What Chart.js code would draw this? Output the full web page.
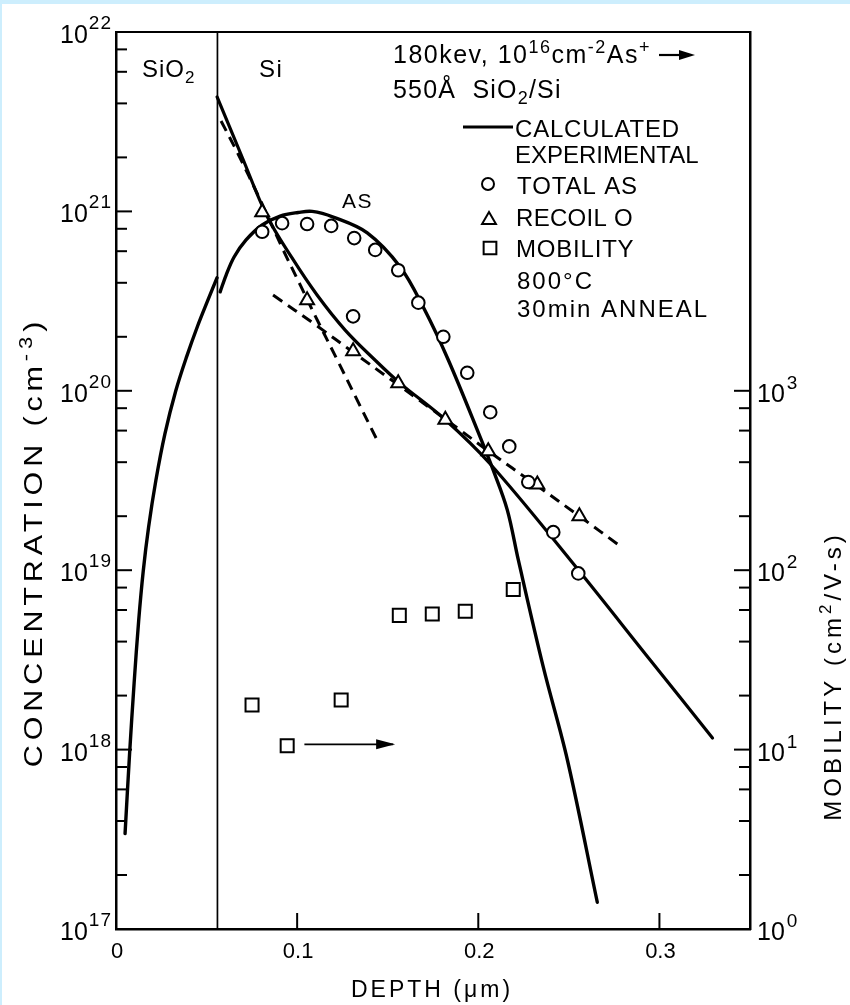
<!DOCTYPE html>
<html>
<head>
<meta charset="utf-8">
<script src="https://cdn.jsdelivr.net/npm/chart.js@4.4.1/dist/chart.umd.min.js"></script>
<style>
  html, body { margin: 0; padding: 0; background: #fff; }
  canvas { display: block; }
</style>
</head>
<body>
<canvas id="chart" width="850" height="1005"></canvas>
<script>
// depth in µm, concentration in cm^-3, mobility in cm^2/V-s

// calculated As profile, oxide side and silicon side
const asOxideDepth = [0.0050, 0.0075, 0.0100, 0.0125, 0.0150, 0.0180, 0.0220, 0.0270, 0.0330, 0.0390, 0.0450, 0.0505, 0.0558];
const asOxideConc  = [3.4e17, 9.5e17, 2.35e18, 5.2e18, 9.8e18, 1.74e19, 3.16e19, 5.75e19, 1.0e20, 1.55e20, 2.29e20, 3.16e20, 4.27e20];
const asSiDepth = [0.0575, 0.0608, 0.0652, 0.0718, 0.0807, 0.0906, 0.1006, 0.1083, 0.1199, 0.1387, 0.1569, 0.1696, 0.1834, 0.2011, 0.2083, 0.2160, 0.2221, 0.2359, 0.2492, 0.2657];
const asSiConc  = [3.56e20, 4.42e20, 5.57e20, 6.93e20, 8.4e20, 9.42e20, 9.86e20, 1.0e21, 9.3e20, 7.59e20, 4.9e20, 2.93e20, 1.49e20, 5.5e19, 3.6e19, 2.17e19, 1.14e19, 2.88e18, 8.75e17, 1.41e17];

// calculated recoil O profile
const oCalcDepth = [0.0558, 0.0696, 0.0834, 0.0972, 0.1110, 0.1265, 0.1431, 0.1569, 0.1807, 0.2066, 0.2508, 0.2950, 0.3293];
const oCalcConc  = [4.35e21, 2.01e21, 9.4e20, 5.5e20, 3.42e20, 2.18e20, 1.48e20, 1.10e20, 7.05e19, 3.91e19, 1.14e19, 3.15e18, 1.16e18];

// experimental O, dashed traces
const oSteepDepth = [0.0580, 0.0669, 0.0796, 0.0923, 0.1017, 0.1111, 0.1221, 0.1331, 0.1442];
const oSteepConc  = [3.19e21, 2.14e21, 1.16e21, 6.1e20, 3.89e20, 2.48e20, 1.49e20, 8.9e19, 5.3e19];
const oTailDepth = [0.0867, 0.1110, 0.1309, 0.1552, 0.1884, 0.2055, 0.2320, 0.2564, 0.2785];
const oTailConc  = [3.42e20, 2.30e20, 1.64e20, 1.09e20, 6.21e19, 4.62e19, 2.98e19, 1.98e19, 1.36e19];

// experimental points
const totalAsDepth = [0.0807, 0.0917, 0.1055, 0.1188, 0.1315, 0.1431, 0.1558, 0.1669, 0.1807, 0.1939, 0.2066, 0.2171, 0.2276, 0.2414, 0.2552, 0.1309];
const totalAsConc  = [7.7e20, 8.6e20, 8.5e20, 8.3e20, 7.1e20, 6.1e20, 4.7e20, 3.1e20, 2.0e20, 1.26e20, 7.6e19, 4.9e19, 3.1e19, 1.63e19, 9.6e18, 2.6e20];
const recoilODepth = [0.0807, 0.1055, 0.1309, 0.1558, 0.1818, 0.2055, 0.2326, 0.2558];
const recoilOConc  = [9.9e20, 3.2e20, 1.66e20, 1.1e20, 6.9e19, 4.6e19, 3.0e19, 2.0e19];
const mobilityDepth = [0.0751, 0.0945, 0.1243, 0.1564, 0.1746, 0.1928, 0.2193];
const mobilityValue = [17.7, 10.5, 18.9, 56, 57, 59, 78];

// arrow pointing to the mobility axis
const arrowDepth = [0.104, 0.153];
const arrowMobility = [10.7, 10.7];

// SiO2 / Si interface
const interfaceDepth = 0.056;

// axes
const depthTicks = [0, 0.1, 0.2, 0.3];
const depthTickLabels = ['0', '0.1', '0.2', '0.3'];
const concDecades = [1e17, 1e18, 1e19, 1e20, 1e21, 1e22];
const concExponents = ['17', '18', '19', '20', '21', '22'];
const mobilityDecades = [1, 10, 100, 1000];
const mobilityExponents = ['0', '1', '2', '3'];
const minorSteps = [2, 4, 6, 8];

const FONT = '"Liberation Sans", Arial, sans-serif';

const pts = (xs, ys) => xs.map((x, i) => ({ x: x, y: ys[i] }));

function curve(data, width, dash) {
  return {
    data: data, showLine: true, pointRadius: 0, borderColor: '#000',
    borderWidth: width, borderDash: dash || [], fill: false,
    tension: 0.35, borderCapStyle: dash ? 'butt' : 'round',
    borderJoinStyle: 'round', order: 1
  };
}

function measureRich(ctx, parts, size, spacing) {
  let w = 0;
  ctx.letterSpacing = (spacing || 0) + 'px';
  for (const [t, k] of parts) {
    const fs = k === 'n' ? size : Math.round(size * 0.72);
    ctx.font = fs + 'px ' + FONT;
    w += ctx.measureText(t).width;
  }
  return w;
}

function drawRich(ctx, x, y, parts, size, spacing) {
  let cx = x;
  ctx.letterSpacing = (spacing || 0) + 'px';
  for (const [t, k] of parts) {
    const fs = k === 'n' ? size : Math.round(size * 0.72);
    ctx.font = fs + 'px ' + FONT;
    const dy = k === 'sup' ? -size * 0.42 : (k === 'sub' ? size * 0.24 : 0);
    ctx.fillText(t, cx, y + dy);
    cx += ctx.measureText(t).width;
  }
  return cx;
}

function rotatedLabel(ctx, cx, cy, parts, size, spacing, stretch) {
  ctx.save();
  ctx.translate(cx, cy);
  ctx.rotate(-Math.PI / 2);
  ctx.scale(stretch || 1, 1);
  const w = measureRich(ctx, parts, size, spacing);
  drawRich(ctx, -w / 2, size * 0.36, parts, size, spacing);
  ctx.restore();
}

const background = {
  id: 'background',
  beforeDraw(chart) {
    const { ctx, width, height } = chart;
    ctx.save();
    ctx.fillStyle = '#fff';
    ctx.fillRect(0, 0, width, height);
    ctx.fillStyle = '#cdeefd';
    ctx.fillRect(0, 0, width, 4);
    ctx.fillRect(0, 0, 2, height);
    ctx.restore();
  }
};

// inward ticks and 10^n labels
const axisDecor = {
  id: 'axisDecor',
  afterDraw(chart) {
    const { ctx, chartArea: a, scales } = chart;
    ctx.save();
    ctx.strokeStyle = '#000';
    ctx.fillStyle = '#000';
    ctx.lineWidth = 2;
    ctx.lineCap = 'butt';
    const hline = (x1, x2, y) => { ctx.beginPath(); ctx.moveTo(x1, y); ctx.lineTo(x2, y); ctx.stroke(); };
    const vline = (x, y1, y2) => { ctx.beginPath(); ctx.moveTo(x, y1); ctx.lineTo(x, y2); ctx.stroke(); };

    concDecades.forEach((d, i) => {
      const y = scales.y.getPixelForValue(d);
      hline(a.left, a.left + 16, y);
      if (i < concDecades.length - 1) {
        minorSteps.forEach(m => hline(a.left, a.left + 11, scales.y.getPixelForValue(d * m)));
      }
    });
    mobilityDecades.forEach((d, i) => {
      const y = scales.y2.getPixelForValue(d);
      hline(a.right - 16, a.right, y);
      if (i < mobilityDecades.length - 1) {
        minorSteps.forEach(m => hline(a.right - 11, a.right, scales.y2.getPixelForValue(d * m)));
      }
    });
    depthTicks.forEach(v => {
      const x = scales.x.getPixelForValue(v);
      vline(x, a.bottom, a.bottom - 16);
    });

    ctx.textBaseline = 'alphabetic';
    // left labels
    concDecades.forEach((d, i) => {
      const y = scales.y.getPixelForValue(d);
      ctx.font = '19px ' + FONT;
      ctx.letterSpacing = '1px';
      const sw = ctx.measureText(concExponents[i]).width;
      const supX = 112 - sw;
      ctx.fillText(concExponents[i], supX, y - 3);
      ctx.font = '25px ' + FONT;
      ctx.letterSpacing = '0px';
      const bw = ctx.measureText('10').width;
      ctx.fillText('10', supX - bw - 1, y + 11);
    });
    // right labels
    mobilityDecades.forEach((d, i) => {
      const y = scales.y2.getPixelForValue(d);
      ctx.font = '25px ' + FONT;
      ctx.letterSpacing = '0px';
      ctx.fillText('10', 757, y + 11);
      const bw = ctx.measureText('10').width;
      ctx.font = '19px ' + FONT;
      ctx.fillText(mobilityExponents[i], 757 + bw + 2, y - 2);
    });
    // bottom labels
    ctx.font = '22px ' + FONT;
    ctx.textAlign = 'center';
    depthTicks.forEach((v, i) => {
      ctx.fillText(depthTickLabels[i], scales.x.getPixelForValue(v) + 1, a.bottom + 29);
    });
    ctx.textAlign = 'left';

    // axis titles
    const tw = measureRich(ctx, [['DEPTH (μm)', 'n']], 23, 3);
    drawRich(ctx, 432 - tw / 2, 997, [['DEPTH (μm)', 'n']], 23, 3);
    rotatedLabel(ctx, 33, 542, [['CONCENTRATION (cm', 'n'], ['-3', 'sup'], [')', 'n']], 25, 4, 1.22);
    rotatedLabel(ctx, 832, 676, [['MOBILITY (cm', 'n'], ['2', 'sup'], ['/V-s)', 'n']], 24, 4);
    ctx.restore();
  }
};

// arrowhead at the end of the mobility arrow
const arrowHead = {
  id: 'arrowHead',
  afterDatasetsDraw(chart) {
    const idx = chart.data.datasets.findIndex(d => d.label === 'arrow');
    const meta = chart.getDatasetMeta(idx);
    const last = meta.data[meta.data.length - 1];
    const { ctx } = chart;
    ctx.save();
    ctx.fillStyle = '#000';
    ctx.beginPath();
    ctx.moveTo(last.x + 2, last.y);
    ctx.lineTo(last.x - 17, last.y - 5);
    ctx.lineTo(last.x - 17, last.y + 5);
    ctx.closePath();
    ctx.fill();
    ctx.restore();
  }
};

// text block, legend and region labels
const annotations = {
  id: 'annotations',
  afterDraw(chart) {
    const { ctx } = chart;
    const H = Chart.helpers;
    ctx.save();
    ctx.fillStyle = '#000';
    ctx.strokeStyle = '#000';
    ctx.textBaseline = 'alphabetic';

    drawRich(ctx, 142, 77, [['SiO', 'n'], ['2', 'sub']], 24, 1);
    drawRich(ctx, 259, 77, [['Si', 'n']], 24, 1.5);
    drawRich(ctx, 342, 208, [['AS', 'n']], 21, 1.5);

    const end = drawRich(ctx, 393, 63,
      [['180kev, 10', 'n'], ['16', 'sup'], ['cm', 'n'], ['-2', 'sup'], ['As', 'n'], ['+', 'sup']], 25, 1.5);
    ctx.letterSpacing = '0px';
    ctx.lineWidth = 2.2;
    ctx.beginPath();
    ctx.moveTo(end + 8, 55);
    ctx.lineTo(end + 30, 55);
    ctx.stroke();
    ctx.beginPath();
    ctx.moveTo(end + 44, 55);
    ctx.lineTo(end + 28, 50);
    ctx.lineTo(end + 28, 60);
    ctx.closePath();
    ctx.fill();

    drawRich(ctx, 393, 98, [['550Å  SiO', 'n'], ['2', 'sub'], ['/Si', 'n']], 25, 1.2);

    ctx.lineWidth = 3;
    ctx.beginPath();
    ctx.moveTo(463, 127);
    ctx.lineTo(513, 127);
    ctx.stroke();
    drawRich(ctx, 515, 137, [['CALCULATED', 'n']], 24, 0.8);
    drawRich(ctx, 515, 163, [['EXPERIMENTAL', 'n']], 24, 0);

    ctx.fillStyle = '#fff';
    ctx.lineWidth = 2;
    H.drawPoint(ctx, { pointStyle: 'circle', radius: 6, borderWidth: 2, rotation: 0 }, 488, 184);
    H.drawPoint(ctx, { pointStyle: 'triangle', radius: 8, borderWidth: 2, rotation: 0 }, 489, 220);
    H.drawPoint(ctx, { pointStyle: 'rect', radius: 9, borderWidth: 2, rotation: 0 }, 490, 248);
    ctx.fillStyle = '#000';
    drawRich(ctx, 517, 194, [['TOTAL AS', 'n']], 24, 0.9);
    drawRich(ctx, 516, 226, [['RECOIL O', 'n']], 24, 0.3);
    drawRich(ctx, 516, 257, [['MOBILITY', 'n']], 24, 0.8);
    drawRich(ctx, 517, 289, [['800°C', 'n']], 24, 2);
    drawRich(ctx, 517, 317, [['30min ANNEAL', 'n']], 24, 2);
    ctx.restore();
  }
};

const hiddenAxis = (extra) => Object.assign({
  display: true,
  ticks: { display: false },
  grid: { display: false, drawTicks: false },
  border: { display: true, color: '#000', width: 2.5 }
}, extra);

new Chart(document.getElementById('chart').getContext('2d'), {
  type: 'scatter',
  data: {
    datasets: [
      { label: 'total As', data: pts(totalAsDepth, totalAsConc), pointStyle: 'circle', pointRadius: 6.3,
        pointBorderWidth: 2, pointBorderColor: '#000', pointBackgroundColor: '#fff', showLine: false, order: 0 },
      { label: 'recoil O', data: pts(recoilODepth, recoilOConc), pointStyle: 'triangle', pointRadius: 8,
        pointBorderWidth: 2, pointBorderColor: '#000', pointBackgroundColor: '#fff', showLine: false, order: 0 },
      { label: 'mobility', data: pts(mobilityDepth, mobilityValue), yAxisID: 'y2', pointStyle: 'rect', pointRadius: 9.2,
        pointBorderWidth: 2, pointBorderColor: '#000', pointBackgroundColor: '#fff', showLine: false, order: 0 },
      Object.assign(curve(pts(asOxideDepth, asOxideConc), 3.4), { label: 'As calc oxide' }),
      Object.assign(curve(pts(asSiDepth, asSiConc), 3.4), { label: 'As calc Si' }),
      Object.assign(curve(pts(oCalcDepth, oCalcConc), 3.2), { label: 'O calc' }),
      Object.assign(curve(pts(oSteepDepth, oSteepConc), 3, [11, 7]), { label: 'O exp surface' }),
      Object.assign(curve(pts(oTailDepth, oTailConc), 3, [11, 7]), { label: 'O exp tail' }),
      Object.assign(curve(pts(arrowDepth, arrowMobility), 1.7), { label: 'arrow', yAxisID: 'y2', borderCapStyle: 'butt' }),
      Object.assign(curve([{ x: interfaceDepth, y: concDecades[0] }, { x: interfaceDepth, y: concDecades[5] }], 1.7),
        { label: 'interface', borderCapStyle: 'butt', order: 2 })
    ]
  },
  options: {
    responsive: false,
    animation: false,
    layout: { padding: { left: 116, top: 32, right: 100, bottom: 76 } },
    plugins: { legend: { display: false }, tooltip: { enabled: false } },
    scales: {
      x: hiddenAxis({ type: 'linear', position: 'bottom', min: 0, max: 0.35 }),
      xTop: hiddenAxis({ type: 'linear', position: 'top', min: 0, max: 0.35, border: { display: true, color: '#000', width: 2 } }),
      y: hiddenAxis({ type: 'logarithmic', position: 'left', min: 1e17, max: 1e22 }),
      y2: hiddenAxis({ type: 'logarithmic', position: 'right', min: 1, max: 1e5 })
    }
  },
  plugins: [background, axisDecor, arrowHead, annotations]
});
</script>
</body>
</html>
